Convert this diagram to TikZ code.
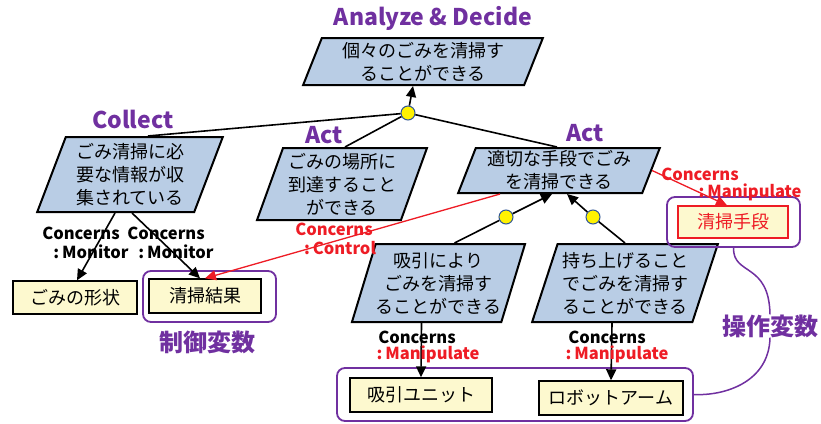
\documentclass[tikz,border=0pt]{standalone}
\usepackage{fontspec}
\setmainfont{Noto Sans CJK JP}
\usetikzlibrary{shapes.geometric,arrows.meta}

\definecolor{goalblue}{HTML}{B9CDE5}
\definecolor{varyellow}{HTML}{FDF9CF}
\definecolor{groupviolet}{HTML}{7030A0}
\definecolor{linkred}{HTML}{EE1C25}
\definecolor{dotyellow}{HTML}{FFF200}
\definecolor{dotrim}{HTML}{2F5597}

\tikzset{
  goal/.style={trapezium, trapezium left angle=69, trapezium right angle=111,
    trapezium stretches=true, draw, line width=2pt, fill=goalblue,
    inner sep=0pt, align=center, font=\fontsize{18}{23}\selectfont},
  var/.style={draw, line width=1.4pt, fill=varyellow, inner sep=0pt,
    font=\fontsize{18}{22}\selectfont},
  andnode/.style={circle, draw=dotrim, fill=dotyellow, line width=1pt,
    minimum size=14pt, inner sep=0pt},
  tag/.style={font=\bfseries\fontsize{23}{27}\selectfont, text=groupviolet, inner sep=0pt},
  bigtag/.style={font=\bfseries\fontsize{24}{28}\selectfont, text=groupviolet, inner sep=0pt},
  rel/.style={font=\bfseries\fontsize{16.5}{18}\selectfont, inner sep=0pt},
  link/.style={line width=1.6pt, -{Triangle[length=11pt,width=10pt]}},
  plain/.style={line width=1.6pt},
  group/.style={draw=groupviolet, line width=1.8pt, rounded corners=8pt, inner sep=0pt},
}

\begin{document}
\begin{tikzpicture}[x=1pt,y=-1pt]
\useasboundingbox (0,0) rectangle (821,423);

% goals
\node[goal, minimum width=240pt, minimum height=47pt] (top) at (423,61.5)
  {個々のごみを清掃す\\ることができる};
\node[goal, minimum width=186pt, minimum height=75pt] (collect) at (130,174.5)
  {ごみ清掃に必\\要な情報が収\\集されている};
\node[goal, minimum width=170pt, minimum height=72pt] (reach) at (342,184)
  {ごみの場所に\\到達すること\\ができる};
\node[goal, minimum width=202pt, minimum height=45pt] (clean) at (559,170.5)
  {適切な手段でごみ\\を清掃できる};
\node[goal, minimum width=173pt, minimum height=78pt] (suck) at (438.5,283)
  {吸引により\\ごみを清掃す\\ることができる};
\node[goal, minimum width=186pt, minimum height=78pt] (lift) at (625,283)
  {持ち上げること\\でごみを清掃す\\ることができる};

% goal category tags
\node[tag] (tagAD) at (433,18) {Analyze \& Decide};
\node[tag] (tagC) at (133,119) {Collect};
\node[tag] (tagA1) at (324,135) {Act};
\node[tag] (tagA2) at (585,133) {Act};

% variable boxes
\node[var, minimum width=124pt, minimum height=33pt] (shape) at (75,297.5) {ごみの形状};
\node[var, minimum width=112pt, minimum height=34pt] (result) at (205,296) {清掃結果};
\node[var, draw=linkred, text=linkred, minimum width=110pt, minimum height=32pt] (means) at (733,222) {清掃手段};
\node[var, minimum width=142pt, minimum height=34pt] (unit) at (421,395) {吸引ユニット};
\node[var, minimum width=144pt, minimum height=34pt] (arm) at (611,398) {ロボットアーム};

% variable groups
\node[group, minimum width=133pt, minimum height=51pt] (grpCtl) at (209.5,296.5) {};
\node[group, minimum width=133pt, minimum height=50pt] (grpMeans) at (733.5,222) {};
\node[group, minimum width=356pt, minimum height=53pt] (grpAct) at (515,394.5) {};
\node[bigtag] (ctlvar) at (207,342) {制御変数};
\node[bigtag] (opvar) at (770,326) {操作変数};

% AND refinements
\node[andnode] (and1) at (408,113) {};
\node[andnode] (and2) at (506,217) {};
\node[andnode] (and3) at (593,217) {};

\draw[link] (and1) -- ([xshift=-10pt]top.south);
\draw[plain] (and1) -- ([xshift=18pt]collect.north);
\draw[plain] (and1) -- ([xshift=3pt]reach.north);
\draw[plain] (and1) -- ([xshift=-2pt]clean.north);
\draw[link] (and2) -- ([xshift=-7pt]clean.south);
\draw[link] (and3) -- ([xshift=8pt]clean.south);
\draw[plain] (and2) -- ([xshift=16pt]suck.north);
\draw[plain] (and3) -- (lift.north);

% concerns links
\draw[link] ([xshift=-15pt]collect.south) -- ([xshift=2pt]shape.north);
\draw[link] ([xshift=2pt]collect.south) -- ([xshift=-5pt]result.north);
\draw[link, line width=1.3pt, draw=linkred, fill=linkred] ([xshift=-59pt]clean.south) -- (result.north);
\draw[link, line width=1.3pt, draw=linkred, fill=linkred] (clean.east) -- ([xshift=-6pt]means.north);
\draw[link] ([xshift=-17pt]suck.south) -- (unit.north);
\draw[link] ([xshift=-13pt]lift.south) -- (arm.north);

% link labels
\node[rel] (m1a) at (81,233) {Concerns};
\node[rel] (m1b) at (91,252) {:\hspace{3pt}Monitor};
\node[rel] (m2a) at (166,233) {Concerns};
\node[rel] (m2b) at (176,252) {:\hspace{3pt}Monitor};
\node[rel, text=linkred] (c1a) at (334,229) {Concerns};
\node[rel, text=linkred] (c1b) at (340,248) {:\hspace{3pt}Control};
\node[rel, text=linkred] (p0a) at (700,174) {Concerns};
\node[rel, text=linkred] (p0b) at (750,192) {:\hspace{3pt}Manipulate};
\node[rel] (p1a) at (417,337) {Concerns};
\node[rel, text=linkred] (p1b) at (428,354) {:\hspace{3pt}Manipulate};
\node[rel] (p2a) at (607,337) {Concerns};
\node[rel, text=linkred] (p2b) at (617,354) {:\hspace{3pt}Manipulate};

% group callouts
\draw[draw=groupviolet, line width=1.5pt] (grpMeans.south) .. controls (733,276) and (769,262) .. (opvar.north);
\draw[draw=groupviolet, line width=1.5pt] (opvar.south) .. controls (769,382) and (725,396) .. (grpAct.east);
\end{tikzpicture}
\end{document}
